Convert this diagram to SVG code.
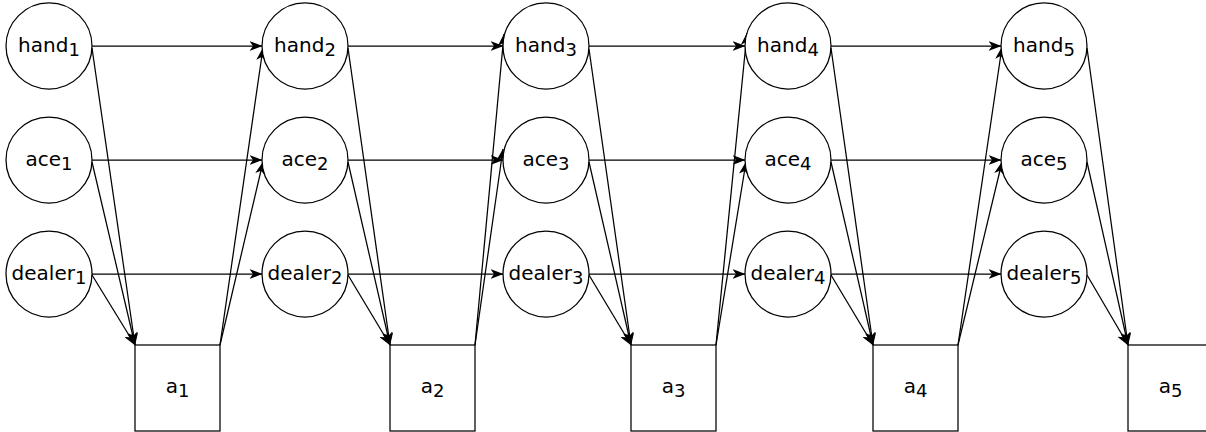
<svg xmlns="http://www.w3.org/2000/svg" width="1206" height="432" viewBox="0 0 1206 432">
  <style>
    .node { fill: #ffffff; stroke: #000000; stroke-width: 1.25; }
    .edge { fill: none; stroke: #000000; stroke-width: 1.25; marker-end: url(#arrow); }
    .lbl { font-family: "DejaVu Sans", Verdana, sans-serif; font-size: 20px; fill: #000000; text-anchor: middle; }
    .sub { font-size: 18px; }
  </style>
  <defs>
    <marker id="arrow" markerUnits="userSpaceOnUse" viewBox="0 0 13 10" refX="12.5" refY="5" markerWidth="13" markerHeight="10" orient="auto">
      <path d="M0,0 L13,5 L0,10 L3.5,5 Z" fill="#000000"/>
    </marker>
  </defs>
  <rect width="1206" height="432" fill="#ffffff"/>

  <!-- connectors -->
  <g id="connectors">
    <!-- row-to-row transitions -->
    <line class="edge" x1="92" y1="46" x2="262" y2="46"/>
    <line class="edge" x1="92" y1="160" x2="262" y2="160"/>
    <line class="edge" x1="92" y1="274" x2="262" y2="274"/>
    <line class="edge" x1="348" y1="46" x2="503" y2="46"/>
    <line class="edge" x1="348" y1="160" x2="503" y2="160"/>
    <line class="edge" x1="348" y1="274" x2="503" y2="274"/>
    <line class="edge" x1="589" y1="46" x2="745" y2="46"/>
    <line class="edge" x1="589" y1="160" x2="745" y2="160"/>
    <line class="edge" x1="589" y1="274" x2="745" y2="274"/>
    <line class="edge" x1="831" y1="46" x2="1001" y2="46"/>
    <line class="edge" x1="831" y1="160" x2="1001" y2="160"/>
    <line class="edge" x1="831" y1="274" x2="1001" y2="274"/>

    <!-- state to action -->
    <line class="edge" x1="92" y1="48" x2="135" y2="345"/>
    <line class="edge" x1="92" y1="162" x2="135" y2="345"/>
    <line class="edge" x1="92" y1="275" x2="135" y2="345"/>
    <line class="edge" x1="348" y1="48" x2="390" y2="345"/>
    <line class="edge" x1="348" y1="162" x2="390" y2="345"/>
    <line class="edge" x1="348" y1="275" x2="390" y2="345"/>
    <line class="edge" x1="589" y1="49" x2="631" y2="345"/>
    <line class="edge" x1="589" y1="162" x2="631" y2="345"/>
    <line class="edge" x1="589" y1="275" x2="631" y2="345"/>
    <line class="edge" x1="831" y1="48" x2="873" y2="345"/>
    <line class="edge" x1="831" y1="162" x2="873" y2="345"/>
    <line class="edge" x1="831" y1="275" x2="873" y2="345"/>
    <line class="edge" x1="1087" y1="48" x2="1128" y2="345"/>
    <line class="edge" x1="1087" y1="162" x2="1128" y2="345"/>
    <line class="edge" x1="1087" y1="275" x2="1128" y2="345"/>

    <!-- action to next state -->
    <line class="edge" x1="220" y1="345" x2="263" y2="48"/>
    <line class="edge" x1="220" y1="345" x2="263" y2="162"/>
    <line class="edge" x1="475" y1="345" x2="504" y2="34"/>
    <line class="edge" x1="475" y1="345" x2="503" y2="149"/>
    <line class="edge" x1="716" y1="345" x2="747" y2="33"/>
    <line class="edge" x1="716" y1="345" x2="746" y2="162"/>
    <line class="edge" x1="958" y1="345" x2="1002" y2="47"/>
    <line class="edge" x1="958" y1="345" x2="1002" y2="162"/>
  </g>

  <!-- column 1 -->
  <g id="hand1"><circle class="node" cx="49" cy="46" r="43"/><text class="lbl" x="49" y="52">hand<tspan class="sub" dy="4">1</tspan></text></g>
  <g id="ace1"><circle class="node" cx="49" cy="160" r="43"/><text class="lbl" x="49" y="166">ace<tspan class="sub" dy="4">1</tspan></text></g>
  <g id="dealer1"><circle class="node" cx="49" cy="274" r="43"/><text class="lbl" x="49" y="280">dealer<tspan class="sub" dy="4">1</tspan></text></g>
  <g id="a1"><rect class="node" x="135" y="345" width="85" height="86"/><text class="lbl" x="177.5" y="393">a<tspan class="sub" dy="4">1</tspan></text></g>

  <!-- column 2 -->
  <g id="hand2"><circle class="node" cx="305" cy="46" r="43"/><text class="lbl" x="305" y="52">hand<tspan class="sub" dy="4">2</tspan></text></g>
  <g id="ace2"><circle class="node" cx="305" cy="160" r="43"/><text class="lbl" x="305" y="166">ace<tspan class="sub" dy="4">2</tspan></text></g>
  <g id="dealer2"><circle class="node" cx="305" cy="274" r="43"/><text class="lbl" x="305" y="280">dealer<tspan class="sub" dy="4">2</tspan></text></g>
  <g id="a2"><rect class="node" x="390" y="345" width="85" height="86"/><text class="lbl" x="432.5" y="393">a<tspan class="sub" dy="4">2</tspan></text></g>

  <!-- column 3 -->
  <g id="hand3"><circle class="node" cx="546" cy="46" r="43"/><text class="lbl" x="546" y="52">hand<tspan class="sub" dy="4">3</tspan></text></g>
  <g id="ace3"><circle class="node" cx="546" cy="160" r="43"/><text class="lbl" x="546" y="166">ace<tspan class="sub" dy="4">3</tspan></text></g>
  <g id="dealer3"><circle class="node" cx="546" cy="274" r="43"/><text class="lbl" x="546" y="280">dealer<tspan class="sub" dy="4">3</tspan></text></g>
  <g id="a3"><rect class="node" x="631" y="345" width="85" height="86"/><text class="lbl" x="673.5" y="393">a<tspan class="sub" dy="4">3</tspan></text></g>

  <!-- column 4 -->
  <g id="hand4"><circle class="node" cx="788" cy="46" r="43"/><text class="lbl" x="788" y="52">hand<tspan class="sub" dy="4">4</tspan></text></g>
  <g id="ace4"><circle class="node" cx="788" cy="160" r="43"/><text class="lbl" x="788" y="166">ace<tspan class="sub" dy="4">4</tspan></text></g>
  <g id="dealer4"><circle class="node" cx="788" cy="274" r="43"/><text class="lbl" x="788" y="280">dealer<tspan class="sub" dy="4">4</tspan></text></g>
  <g id="a4"><rect class="node" x="873" y="345" width="85" height="86"/><text class="lbl" x="915.5" y="393">a<tspan class="sub" dy="4">4</tspan></text></g>

  <!-- column 5 -->
  <g id="hand5"><circle class="node" cx="1044" cy="46" r="43"/><text class="lbl" x="1044" y="52">hand<tspan class="sub" dy="4">5</tspan></text></g>
  <g id="ace5"><circle class="node" cx="1044" cy="160" r="43"/><text class="lbl" x="1044" y="166">ace<tspan class="sub" dy="4">5</tspan></text></g>
  <g id="dealer5"><circle class="node" cx="1044" cy="274" r="43"/><text class="lbl" x="1044" y="280">dealer<tspan class="sub" dy="4">5</tspan></text></g>
  <g id="a5"><rect class="node" x="1128" y="345" width="85" height="86"/><text class="lbl" x="1170.5" y="393">a<tspan class="sub" dy="4">5</tspan></text></g>
</svg>
